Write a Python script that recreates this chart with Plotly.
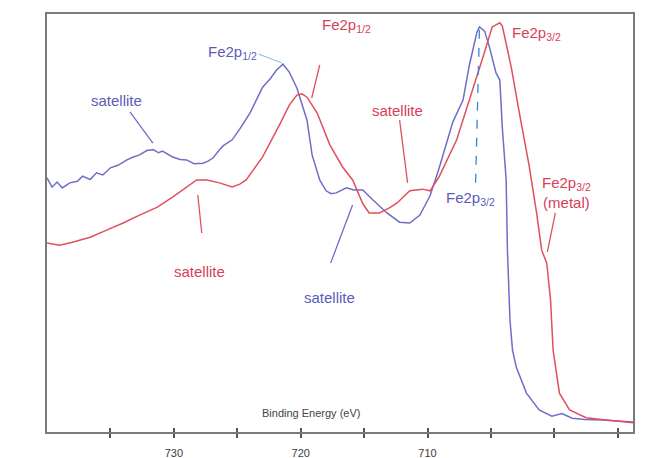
import plotly.graph_objects as go

# ---- data (binding energy in eV, intensity in arbitrary units) ----
blue_ev = [740.0, 739.6, 739.2, 738.8, 738.2, 737.6, 737.2, 736.6, 736.1, 735.6,
           735.0, 734.4, 733.7, 733.2, 732.7, 732.1, 731.6, 731.2, 730.9, 730.4,
           730.1, 729.5, 729.0, 728.4, 727.7, 727.3, 726.9, 726.4, 726.1, 725.4,
           724.8, 724.0, 723.0, 722.4, 721.9, 721.4, 720.9, 720.3, 719.5, 719.1,
           718.5, 718.0, 717.6, 717.2, 716.7, 716.4, 715.8, 715.1, 714.3, 713.2,
           712.2, 711.4, 710.6, 709.8, 709.1, 708.0, 707.2, 706.7, 706.1, 705.9,
           705.5, 705.1, 704.6, 704.3, 704.1, 703.8, 703.7, 703.5, 703.3, 703.0,
           702.2, 701.2, 700.2, 699.4, 698.6, 697.6, 696.2, 695.0, 693.8]
blue_int = [60.8, 58.6, 59.8, 58.4, 59.6, 60.0, 61.2, 60.4, 62.0, 61.5,
            63.2, 63.8, 65.1, 65.8, 66.3, 67.4, 67.5, 66.8, 67.2, 66.2,
            65.8, 65.2, 65.1, 64.2, 64.3, 64.8, 65.6, 67.5, 68.5, 69.9,
            72.5, 76.3, 82.5, 84.5, 86.6, 88.0, 86.1, 82.3, 74.6, 66.3,
            60.3, 57.7, 57.0, 57.2, 58.0, 58.4, 57.9, 57.9, 55.5, 52.4,
            50.2, 50.0, 51.9, 56.5, 63.0, 74.2, 79.4, 87.8, 95.7, 96.9,
            95.9, 91.9, 85.9, 84.2, 72.7, 60.3, 43.5, 26.8, 19.6, 15.5,
            9.3, 5.3, 3.8, 4.4, 3.3, 3.0, 2.9, 2.6, 2.4]

red_ev = [740.0, 739.0, 738.0, 736.6, 735.3, 734.0, 732.7, 731.3, 730.1, 729.0,
          728.2, 727.4, 726.4, 725.4, 724.8, 724.3, 723.0, 721.6, 720.9, 720.3,
          719.9, 719.5, 718.7, 717.7, 716.7, 715.9, 715.1, 714.6, 713.8, 713.0,
          712.4, 711.4, 710.4, 709.8, 709.1, 707.7, 706.5, 705.7, 704.9, 704.3,
          704.1, 703.4, 702.8, 702.0, 701.4, 701.0, 700.6, 700.3, 700.1, 699.6,
          698.8, 697.5, 695.9, 693.8]
red_int = [45.2, 44.7, 45.4, 46.6, 48.3, 50.0, 51.9, 53.8, 56.2, 58.6,
           60.3, 60.3, 59.6, 58.6, 59.3, 60.3, 65.8, 73.9, 78.2, 80.6,
           80.9, 80.1, 76.3, 68.7, 63.4, 60.3, 54.6, 52.4, 52.4, 53.6,
           54.8, 57.7, 58.1, 57.7, 61.0, 69.9, 81.1, 89.0, 96.9, 97.9,
           97.1, 87.3, 77.0, 63.9, 52.4, 43.5, 40.4, 31.6, 19.6, 9.3,
           5.3, 3.4, 2.9, 2.2]

tick_vals = [735, 730, 725, 720, 715, 710, 705, 700, 695]
tick_text = ["", "730", "", "720", "", "710", "", "", ""]

BLUE = "#6e6ec8"
RED = "#e0505c"
BLUE_TXT = "#5c5cb8"
RED_TXT = "#d84058"
FONT = "Liberation Sans, Arial, sans-serif"

fig = go.Figure()
fig.add_trace(go.Scatter(x=blue_ev, y=blue_int, mode="lines",
                         line=dict(color=BLUE, width=1.5), showlegend=False))
fig.add_trace(go.Scatter(x=red_ev, y=red_int, mode="lines",
                         line=dict(color=RED, width=1.5), showlegend=False))
# invisible trace for inner ticks axis
fig.add_trace(go.Scatter(x=[740], y=[0], xaxis="x2", mode="markers",
                         marker=dict(opacity=0), showlegend=False, hoverinfo="skip"))

labels = [
    (734.5, 79.4, "satellite", BLUE_TXT),
    (725.4, 90.9, "Fe2p<sub>1/2</sub>", BLUE_TXT),
    (716.4, 97.2, "Fe2p<sub>1/2</sub>", RED_TXT),
    (712.35, 77.0, "satellite", RED_TXT),
    (706.6, 55.8, "Fe2p<sub>3/2</sub>", BLUE_TXT),
    (701.4, 95.3, "Fe2p<sub>3/2</sub>", RED_TXT),
    (699.05, 57.3, "Fe2p<sub>3/2</sub><br>(metal)", RED_TXT),
    (727.95, 38.3, "satellite", RED_TXT),
    (717.7, 32.1, "satellite", BLUE_TXT),
]
for x, y, t, c in labels:
    fig.add_annotation(x=x, y=y, xref="x", yref="y", text=t, showarrow=False,
                       xanchor="center", yanchor="middle",
                       font=dict(family=FONT, size=15, color=c))

leaders = [
    (733.46, 76.6, 731.65, 69.1, BLUE, 1.3, "solid"),
    (723.31, 90.4, 721.5, 88.3, "#8ab4e4", 1.0, "solid"),
    (718.5, 87.8, 719.13, 79.9, RED, 1.3, "solid"),
    (712.2, 74.6, 711.57, 59.6, RED, 1.3, "solid"),
    (705.91, 96.2, 706.22, 58.4, "#3a86d0", 1.3, "dash"),
    (699.92, 52.4, 700.55, 43.1, RED, 1.3, "solid"),
    (728.11, 56.7, 727.8, 47.6, RED, 1.3, "solid"),
    (715.91, 54.3, 717.64, 40.4, BLUE, 1.3, "solid"),
]
for x0, y0, x1, y1, c, w, d in leaders:
    fig.add_shape(type="line", x0=x0, y0=y0, x1=x1, y1=y1, xref="x", yref="y",
                  line=dict(color=c, width=w, dash=d))

fig.add_annotation(x=0.45, y=0.045, xref="paper", yref="paper",
                   xanchor="center", yanchor="middle",
                   text="Binding Energy (eV)", showarrow=False,
                   font=dict(family=FONT, size=11, color="#444444"))

fig.update_layout(
    width=640, height=450,
    margin=dict(l=39, r=15, t=6, b=26, autoexpand=False),
    paper_bgcolor="white", plot_bgcolor="white",
    xaxis=dict(range=[740, 693.8], showline=True, mirror=True, linecolor="#7a7a7a",
               linewidth=2, ticks="outside", ticklen=4, tickwidth=1.5,
               tickcolor="#555555", tickvals=tick_vals, ticktext=tick_text,
               ticklabelstandoff=6, automargin=False,
               showgrid=False, zeroline=False,
               tickfont=dict(family=FONT, size=11, color="#3a3a3a")),
    xaxis2=dict(range=[740, 693.8], overlaying="x", anchor="y", side="bottom",
                ticks="inside", ticklen=4, tickwidth=1.5, tickcolor="#555555",
                tickvals=tick_vals, showticklabels=False, showgrid=False,
                zeroline=False, showline=False, automargin=False),
    yaxis=dict(range=[0, 100], showline=True, mirror=True, linecolor="#7a7a7a",
               linewidth=2, showticklabels=False, ticks="", showgrid=False,
               zeroline=False, automargin=False),
)

fig.write_html("out.html")
